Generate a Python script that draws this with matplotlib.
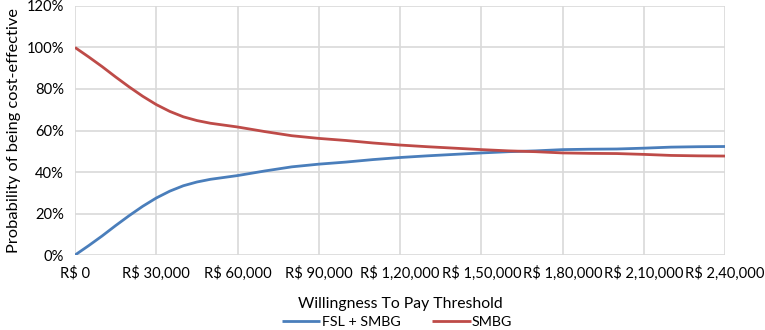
import numpy as np
import matplotlib.pyplot as plt

plt.rcParams['font.family'] = ['Lato', 'DejaVu Sans']

wtp = [0, 5000, 10000, 15000, 20000, 25000, 30000, 35000, 40000, 45000, 50000,
       55000, 60000, 70000, 80000, 90000, 100000, 110000, 120000, 130000, 140000,
       150000, 160000, 170000, 180000, 190000, 200000, 210000, 220000, 230000, 240000]
fsl_smbg = [0, 4.5, 9.2, 14.2, 19.0, 23.5, 27.5, 30.8, 33.4, 35.2, 36.5,
            37.4, 38.3, 40.5, 42.5, 43.8, 44.8, 46.0, 47.0, 47.8, 48.5,
            49.2, 49.8, 50.2, 50.8, 51.0, 51.1, 51.5, 52.0, 52.2, 52.3]
smbg = [100, 95.5, 90.8, 85.8, 81.0, 76.5, 72.5, 69.2, 66.6, 64.8, 63.5,
        62.6, 61.7, 59.5, 57.5, 56.2, 55.2, 54.0, 53.0, 52.2, 51.5,
        50.8, 50.2, 49.8, 49.2, 49.0, 48.9, 48.5, 48.0, 47.8, 47.7]

xticks = [0, 30000, 60000, 90000, 120000, 150000, 180000, 210000, 240000]
xticklabels = ["R$ 0", "R$ 30,000", "R$ 60,000", "R$ 90,000", "R$ 1,20,000",
               "R$ 1,50,000", "R$ 1,80,000", "R$ 2,10,000", "R$ 2,40,000"]
yticks = [0, 20, 40, 60, 80, 100, 120]
yticklabels = ["0%", "20%", "40%", "60%", "80%", "100%", "120%"]

fig = plt.figure(figsize=(7.65, 3.3), dpi=100)
ax = fig.add_axes([0.098, 0.227, 0.85, 0.755])

ax.plot(wtp, fsl_smbg, color='#4A7EBB', lw=2.0, label='FSL + SMBG', solid_capstyle='butt')
ax.plot(wtp, smbg, color='#BE4B48', lw=2.0, label='SMBG', solid_capstyle='butt')

ax.set_xlim(0, 240000)
ax.set_ylim(0, 120)
ax.set_xticks(xticks)
ax.set_xticklabels(xticklabels)
ax.set_yticks(yticks)
ax.set_yticklabels(yticklabels)
ax.tick_params(length=0, labelsize=10.6, colors='#000000', pad=8)
ax.grid(True, color='#D9D9D9', lw=1.2)
ax.set_axisbelow(True)
for s in ax.spines.values():
    s.set_visible(False)

ax.set_xlabel("Willingness To Pay Threshold", fontsize=11.3, labelpad=11)
ax.set_ylabel("Probability of being cost-effective", fontsize=11.8, labelpad=4)

fig.legend(loc='center', bbox_to_anchor=(0.519, 0.025), ncol=2, frameon=False,
           fontsize=10.3, handlelength=2.7, columnspacing=2.2, handletextpad=0.1)

fig.savefig('out.png', dpi=100)
